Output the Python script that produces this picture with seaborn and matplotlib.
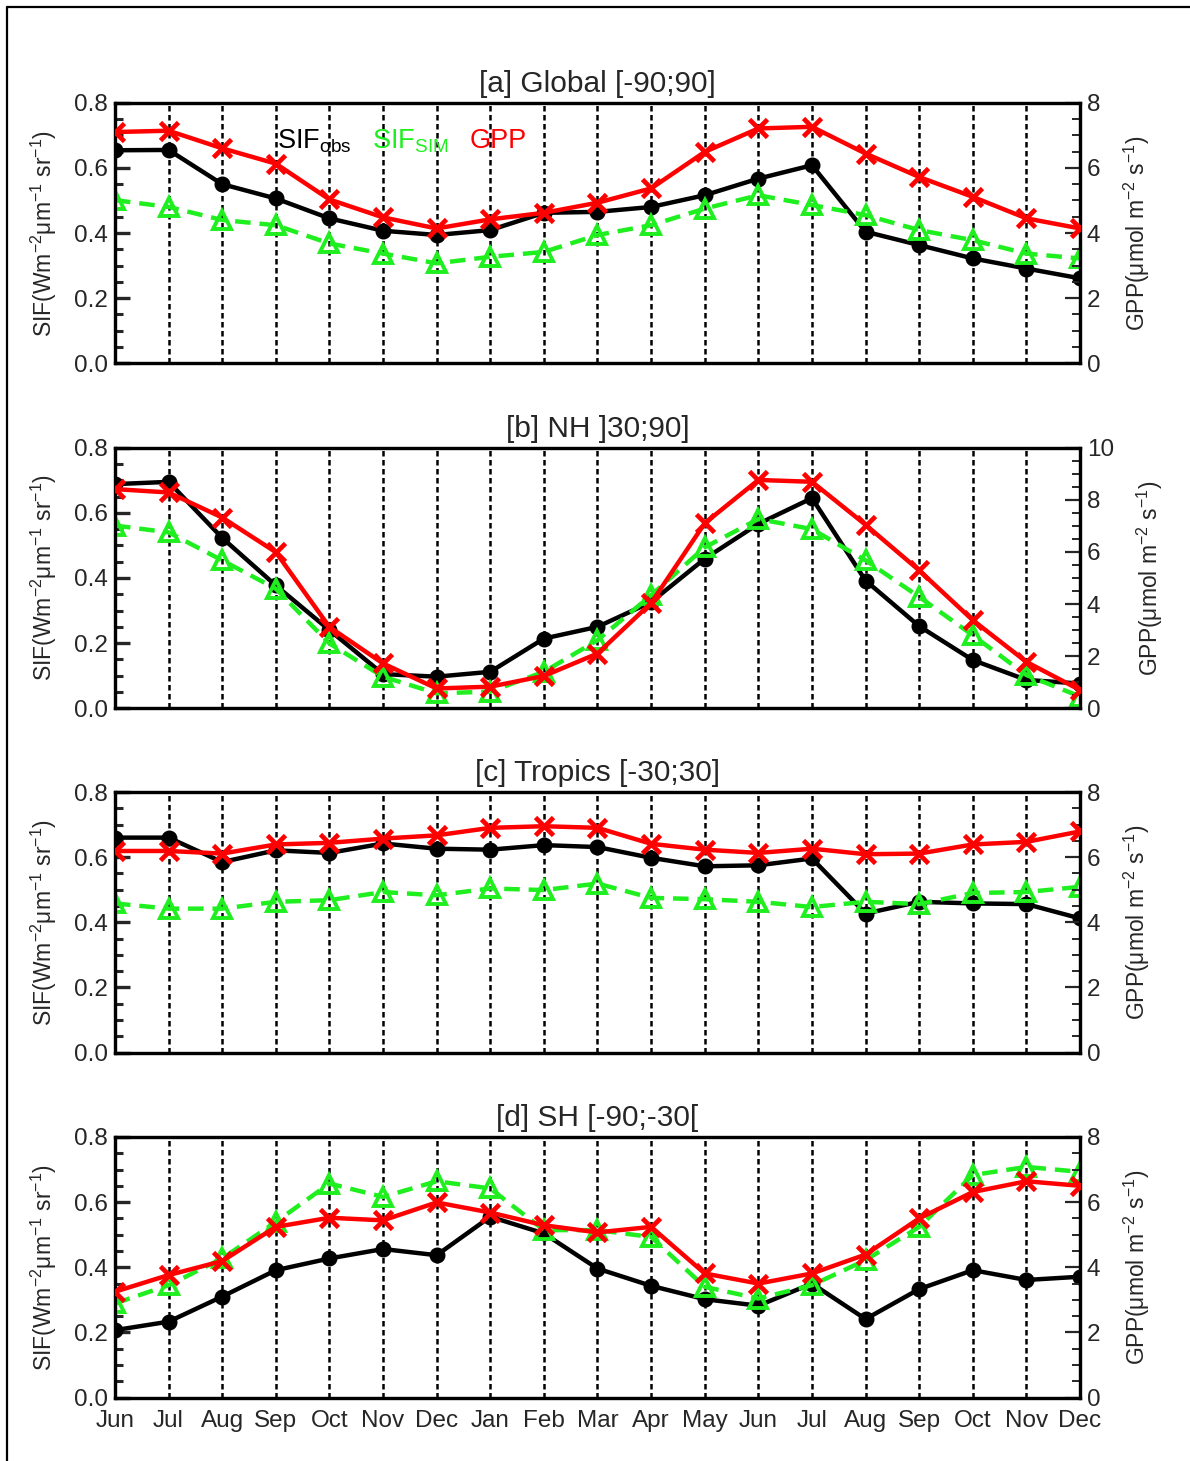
import numpy as np
import pandas as pd
import matplotlib.pyplot as plt
import seaborn as sns
from matplotlib.lines import Line2D
from matplotlib.ticker import MultipleLocator, FormatStrFormatter

months = ['Jun', 'Jul', 'Aug', 'Sep', 'Oct', 'Nov', 'Dec', 'Jan', 'Feb', 'Mar',
          'Apr', 'May', 'Jun', 'Jul', 'Aug', 'Sep', 'Oct', 'Nov', 'Dec']

titles = ['[a] Global [-90;90]', '[b] NH ]30;90]', '[c] Tropics [-30;30]', '[d] SH [-90;-30[']

# [a] global
sif_obs_a = [0.654, 0.655, 0.550, 0.506, 0.445, 0.407, 0.394, 0.409, 0.462, 0.465,
             0.480, 0.516, 0.567, 0.608, 0.404, 0.363, 0.322, 0.291, 0.261]
sif_sim_a = [0.501, 0.480, 0.440, 0.424, 0.368, 0.337, 0.307, 0.327, 0.342, 0.394,
             0.424, 0.475, 0.516, 0.486, 0.455, 0.409, 0.378, 0.337, 0.322]
gpp_a = [7.10, 7.14, 6.60, 6.13, 5.03, 4.48, 4.14, 4.42, 4.62, 4.93,
         5.37, 6.49, 7.21, 7.26, 6.44, 5.72, 5.11, 4.45, 4.14]

# [b] NH
sif_obs_b = [0.688, 0.695, 0.523, 0.377, 0.240, 0.105, 0.097, 0.112, 0.214, 0.250,
             0.326, 0.459, 0.566, 0.645, 0.392, 0.252, 0.148, 0.087, 0.076]
sif_sim_b = [0.561, 0.540, 0.454, 0.367, 0.199, 0.097, 0.046, 0.051, 0.112, 0.209,
             0.347, 0.494, 0.581, 0.550, 0.454, 0.342, 0.224, 0.102, 0.036]
gpp_b = [8.41, 8.28, 7.32, 5.99, 3.12, 1.72, 0.76, 0.83, 1.24, 2.10,
         4.04, 7.10, 8.76, 8.69, 7.04, 5.29, 3.38, 1.78, 0.70]

# [c] tropics
sif_obs_c = [0.660, 0.660, 0.585, 0.621, 0.613, 0.642, 0.626, 0.623, 0.637, 0.631,
             0.598, 0.572, 0.575, 0.596, 0.427, 0.463, 0.458, 0.456, 0.412]
sif_sim_c = [0.458, 0.442, 0.442, 0.463, 0.468, 0.493, 0.483, 0.504, 0.499, 0.519,
             0.475, 0.471, 0.463, 0.447, 0.463, 0.456, 0.490, 0.493, 0.509]
gpp_c = [6.19, 6.19, 6.11, 6.39, 6.44, 6.57, 6.67, 6.90, 6.95, 6.90,
         6.41, 6.23, 6.13, 6.26, 6.09, 6.11, 6.39, 6.47, 6.79]

# [d] SH
sif_obs_d = [0.207, 0.233, 0.310, 0.391, 0.427, 0.456, 0.437, 0.555, 0.504, 0.396,
             0.343, 0.302, 0.282, 0.350, 0.241, 0.333, 0.391, 0.361, 0.371]
sif_sim_d = [0.289, 0.345, 0.427, 0.539, 0.657, 0.616, 0.664, 0.642, 0.514, 0.514,
             0.493, 0.340, 0.304, 0.345, 0.422, 0.524, 0.683, 0.708, 0.693]
gpp_d = [3.25, 3.76, 4.19, 5.24, 5.52, 5.44, 5.99, 5.68, 5.29, 5.07,
         5.24, 3.81, 3.50, 3.81, 4.39, 5.50, 6.31, 6.64, 6.50]

gpp_max = [8, 10, 8, 8]

GREEN = '#1fee1f'

sns.set_style('ticks')
plt.rcParams['font.family'] = ['Liberation Sans', 'DejaVu Sans']
plt.rcParams['mathtext.fontset'] = 'custom'
plt.rcParams['mathtext.rm'] = 'Liberation Sans'
plt.rcParams['mathtext.it'] = 'Liberation Sans:italic'
plt.rcParams['mathtext.bf'] = 'Liberation Sans:bold'

fig = plt.figure(figsize=(11.9, 14.61), dpi=100)

panels = [(sif_obs_a, sif_sim_a, gpp_a), (sif_obs_b, sif_sim_b, gpp_b),
          (sif_obs_c, sif_sim_c, gpp_c), (sif_obs_d, sif_sim_d, gpp_d)]
bottoms = [0.7513, 0.5152, 0.2795, 0.0434]
x = list(range(len(months)))

for i, (obs, sim, gpp) in enumerate(panels):
    ax = fig.add_axes([0.0966, bottoms[i], 0.811, 0.1784])
    ax2 = ax.twinx()

    sns.lineplot(x=x, y=obs, ax=ax, color='black', linewidth=3.2, marker='o',
                 markersize=10.5, markeredgecolor='black', markeredgewidth=1, zorder=3)
    sns.lineplot(x=x, y=sim, ax=ax, color=GREEN, linewidth=3.2, linestyle=(0, (3.5, 2)),
                 marker='^', markersize=13, markerfacecolor='none',
                 markeredgecolor=GREEN, markeredgewidth=2.8, zorder=4)
    sns.lineplot(x=x, y=gpp, ax=ax2, color='red', linewidth=3.2, marker='x',
                 markersize=12.5, markeredgecolor='red', markeredgewidth=3.4, zorder=5)

    ax.set_xlim(0, 18)
    ax.set_ylim(0, 0.8)
    ax2.set_ylim(0, gpp_max[i])

    ax.set_xticks(x)
    ax.set_xticklabels(months)
    ax.grid(axis='x', color='black', linestyle=(0, (2.2, 1.4)), linewidth=1.8)
    ax.grid(axis='y', visible=False)
    ax2.grid(False)
    ax.tick_params(axis='x', length=0, labelsize=17.5, pad=9,
                   labelbottom=(i == 3))

    ax.yaxis.set_major_locator(MultipleLocator(0.2))
    ax.yaxis.set_minor_locator(MultipleLocator(0.05))
    ax.yaxis.set_major_formatter(FormatStrFormatter('%.1f'))
    ax.tick_params(axis='y', which='major', direction='in', length=11, width=2.4,
                   labelsize=17.5, pad=5)
    ax.tick_params(axis='y', which='minor', direction='in', length=6, width=2.2)

    ax2.yaxis.set_major_locator(MultipleLocator(2))
    ax2.yaxis.set_minor_locator(MultipleLocator(0.5))
    ax2.tick_params(axis='y', which='major', direction='in', length=11, width=1.6,
                    labelsize=17.5, pad=5)
    ax2.tick_params(axis='y', which='minor', direction='in', length=5.5, width=1.4)

    for a in (ax, ax2):
        for s in a.spines.values():
            s.set_linewidth(2.3)
            s.set_color('black')

    ax.set_title(titles[i], fontsize=21.5, pad=8)
    ax.set_ylabel(r'SIF(Wm$^{-2}$μm$^{-1}$ sr$^{-1}$)', fontsize=16.5, labelpad=11)
    ax2.set_ylabel(r'GPP(μmol m$^{-2}$ s$^{-1}$)', fontsize=16.5, labelpad=15)
    ax.set_xlabel('')

    if i == 0:
        ax.text(3.02, 0.66, r'SIF$_{\rm obs}$', color='black', fontsize=19.5)
        ax.text(4.8, 0.66, r'SIF$_{\rm SIM}$', color=GREEN, fontsize=19.5)
        ax.text(6.61, 0.66, 'GPP', color='red', fontsize=19.5)

# outer frame (top and left edges visible)
fig.add_artist(Line2D([7 / 1190, 7 / 1190], [0, 1 - 7 / 1461],
                      transform=fig.transFigure, color='black', linewidth=1.6))
fig.add_artist(Line2D([7 / 1190, 1], [1 - 7 / 1461, 1 - 7 / 1461],
                      transform=fig.transFigure, color='black', linewidth=1.6))

fig.savefig('out.png', dpi=100)
